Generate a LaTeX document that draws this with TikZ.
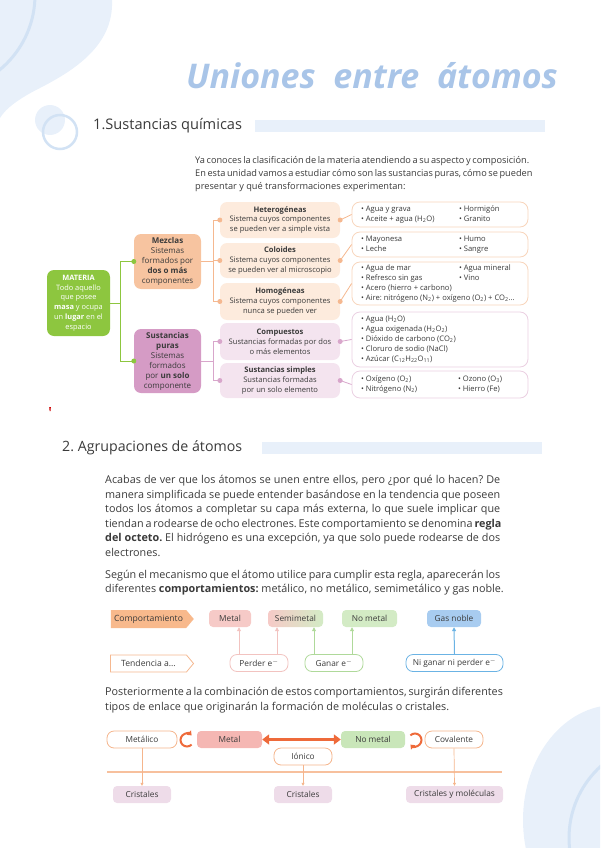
\documentclass[tikz,border=0pt]{standalone}
\usepackage{fontspec}
\setmainfont{Open Sans}
\usetikzlibrary{arrows.meta,shapes.symbols}
\frenchspacing

% colours
\definecolor{deco}{HTML}{E8F0FA}
\definecolor{decoring}{HTML}{D2E2F4}
\definecolor{titleblue}{HTML}{A9C5E8}
\definecolor{txt}{HTML}{3A3A3A}
\definecolor{matgreen}{HTML}{8DC63F}
\definecolor{mezorange}{HTML}{F7C4A0}
\definecolor{lineorange}{HTML}{F5B890}
\definecolor{peach}{HTML}{FDEBDD}
\definecolor{peachline}{HTML}{F8D5BC}
\definecolor{purapurple}{HTML}{D59BC5}
\definecolor{linepurple}{HTML}{D8A6CB}
\definecolor{lilac}{HTML}{F4E4EF}
\definecolor{lilacline}{HTML}{EBD0E2}
\definecolor{compor}{HTML}{F8B98C}
\definecolor{metpink}{HTML}{F6CAC7}
\definecolor{nmgreen}{HTML}{D3EBC5}
\definecolor{gasblue}{HTML}{A8CCF0}
\definecolor{perdline}{HTML}{F2C3C0}
\definecolor{ganline}{HTML}{AFD99A}
\definecolor{niline}{HTML}{6BB3E4}
\definecolor{enlace}{HTML}{F5B58C}
\definecolor{enred}{HTML}{EE6A3A}
\definecolor{metfill}{HTML}{F5B7B3}
\definecolor{nmfill}{HTML}{C9E6B9}
\definecolor{cristal}{HTML}{EEDCE9}

\newcommand{\jline}[2]{\makebox[#1][s]{#2}}

\begin{document}
\begin{tikzpicture}[
    x=1pt, y=-1pt,
    every node/.style={text=txt, inner sep=0pt},
    mapfont/.style={font=\fontsize{7.6}{9.8}\selectfont},
    bigbox/.style={rounded corners=7pt, align=center, minimum width=67pt, font=\fontsize{8}{10}\selectfont},
    subbox/.style={rounded corners=7pt, align=center, minimum width=120pt, mapfont},
    exbox/.style={draw, fill=white, rounded corners=8pt, line width=0.8pt, minimum width=176pt, font=\fontsize{7.6}{10}\selectfont},
    tag/.style={rounded corners=4pt, minimum height=17pt, font=\fontsize{8.3}{9}\selectfont},
    outbox/.style={fill=white, rounded corners=7pt, line width=0.8pt, minimum height=17pt, font=\fontsize{8.3}{9}\selectfont},
    para/.style={anchor=north west, align=left, font=\fontsize{10.8}{14.5}\selectfont}
]
\useasboundingbox (0,0) rectangle (600,848);

% Background shapes
\begin{scope}
\clip (0,0) rectangle (600,848);
\fill[deco] (0,0) -- (112,0) .. controls (114,45) and (75,70) .. (40,88)
    .. controls (20,98) and (6,108) .. (0,118) -- cycle;
\draw[decoring, line width=3pt] (-62,-5) circle (97pt);
\fill[deco] (615,820) ellipse [x radius=92pt, y radius=115pt];
\draw[decoring, line width=3pt] (666,838) circle (97pt);
\end{scope}

% Title
\node[text=titleblue, font=\fontsize{34}{40}\selectfont\bfseries\itshape] (title) at (372,76) {Uniones \ entre \ átomos};

% Section 1
\fill[deco] (50,120) circle (15pt);
\draw[decoring, line width=2.5pt] (60,132) circle (17pt);
\node[anchor=west, font=\fontsize{14.6}{17}\selectfont] (h1) at (93,126) {1.Sustancias químicas};
\fill[deco] (255,120) rectangle (545,132);

\node[anchor=north west, align=left, font=\fontsize{9.2}{13}\selectfont] (intro) at (195,156)
    {\jline{334pt}{Ya conoces la clasificación de la materia atendiendo a su aspecto y composición.}\\
     \jline{334pt}{En esta unidad vamos a estudiar cómo son las sustancias puras, cómo se pueden}\\
     presentar y qué transformaciones experimentan:};

% Concept map
\node[fill=matgreen, rounded corners=7pt, align=center, minimum width=63pt, minimum height=66pt,
      text=white, font=\fontsize{7.4}{9.8}\selectfont] (mat) at (78.5,303)
    {\textbf{MATERIA}\\Todo aquello\\que posee\\\textbf{masa} y ocupa\\un \textbf{lugar} en el\\espacio};

\node[bigbox, fill=mezorange, minimum height=55pt] (mez) at (167.5,261.5)
    {\textbf{Mezclas}\\Sistemas\\formados por\\\textbf{dos o más}\\componentes};
\node[bigbox, fill=purapurple, minimum height=64pt] (pur) at (167.5,361)
    {\textbf{Sustancias}\\\textbf{puras}\\Sistemas\\formados\\por \textbf{un solo}\\componente};

\node[subbox, fill=peach, minimum height=36pt] (het) at (280,220)
    {\textbf{Heterogéneas}\\Sistema cuyos componentes\\se pueden ver a simple vista};
\node[subbox, fill=peach, minimum height=35pt] (col) at (280,260.5)
    {\textbf{Coloides}\\Sistema cuyos componentes\\se pueden ver al microscopio};
\node[subbox, fill=peach, minimum height=37pt] (hom) at (280,301.5)
    {\textbf{Homogéneas}\\Sistema cuyos componentes\\nunca se pueden ver};
\node[subbox, fill=lilac, minimum height=37pt] (cpt) at (280,341.5)
    {\textbf{Compuestos}\\Sustancias formadas por dos\\o más elementos};
\node[subbox, fill=lilac, minimum height=35pt] (smp) at (280,380.5)
    {\textbf{Sustancias simples}\\Sustancias formadas\\por un solo elemento};

% Examples
\node[exbox, draw=peachline, minimum height=25pt] (ex1) at (440,214.5)
    {\begin{tabular}{@{}p{98pt}@{}p{60pt}@{}}
     • Agua y grava & • Hormigón\\
     • Aceite + agua (H\textsubscript{2}O) & • Granito
     \end{tabular}};
\node[exbox, draw=peachline, minimum height=25pt] (ex2) at (440,244.5)
    {\begin{tabular}{@{}p{98pt}@{}p{60pt}@{}}
     • Mayonesa & • Humo\\
     • Leche & • Sangre
     \end{tabular}};
\node[exbox, draw=peachline, minimum height=43pt] (ex3) at (440,283.5)
    {\begin{tabular}{@{}p{98pt}@{}p{60pt}@{}}
     • Agua de mar & • Agua mineral\\
     • Refresco sin gas & • Vino\\
     \multicolumn{2}{@{}l@{}}{• Acero (hierro + carbono)}\\
     \multicolumn{2}{@{}l@{}}{\makebox[158pt][l]{• Aire: nitrógeno (N\textsubscript{2}) + oxígeno (O\textsubscript{2}) + CO\textsubscript{2}...}}
     \end{tabular}};
\node[exbox, draw=lilacline, minimum height=55pt] (ex4) at (440,339.5)
    {\begin{tabular}{@{}p{158pt}@{}}
     • Agua (H\textsubscript{2}O)\\
     • Agua oxigenada (H\textsubscript{2}O\textsubscript{2})\\
     • Dióxido de carbono (CO\textsubscript{2})\\
     • Cloruro de sodio (NaCl)\\
     • Azúcar (C\textsubscript{12}H\textsubscript{22}O\textsubscript{11})
     \end{tabular}};
\node[exbox, draw=lilacline, minimum height=27pt] (ex5) at (440,384.5)
    {\begin{tabular}{@{}p{97pt}@{}p{61pt}@{}}
     • Oxígeno (O\textsubscript{2}) & • Ozono (O\textsubscript{3})\\
     • Nitrógeno (N\textsubscript{2}) & • Hierro (Fe)
     \end{tabular}};

% Connectors
\draw[matgreen, line width=1pt] (mat.east) -- ++(10.5,0) |- (mez.west);
\draw[matgreen, line width=1pt] (mat.east) -- ++(10.5,0) |- (pur.west);
\fill[matgreen] (mez.west) circle (2.5pt) (pur.west) circle (2.5pt);

\foreach \n/\e in {het/ex1, col/ex2, hom/ex3} {
    \draw[lineorange, line width=0.8pt] (mez.east) -- ++(12,0) |- (\n.west);
    \draw[lineorange, line width=0.8pt] (\n.east) -- (\e.west);
    \fill[lineorange] (\n.west) circle (2.5pt) (\n.east) circle (2.5pt);
}
\foreach \n/\e in {cpt/ex4, smp/ex5} {
    \draw[linepurple, line width=0.8pt] (pur.east) -- ++(12,0) |- (\n.west);
    \draw[linepurple, line width=0.8pt] (\n.east) -- (\e.west);
    \fill[linepurple] (\n.west) circle (2.5pt) (\n.east) circle (2.5pt);
}

% small red mark
\fill[red!80!black] (49.2,407) -- (50.8,407) -- (50.6,411) -- (49.6,411) -- cycle;

% Section 2
\node[anchor=west, font=\fontsize{14.2}{17}\selectfont] (h2) at (62,448) {2. Agrupaciones de átomos};
\fill[deco] (262,442) rectangle (542,454);

\node[para] (p1) at (105,475.5)
    {\jline{395pt}{Acabas de ver que los átomos se unen entre ellos, pero ¿por qué lo hacen? De}\\
     \jline{395pt}{manera simplificada se puede entender basándose en la tendencia que poseen}\\
     \jline{395pt}{todos los átomos a completar su capa más externa, lo que suele implicar que}\\
     \jline{395pt}{tiendan a rodearse de ocho electrones. Este comportamiento se denomina \textbf{regla}}\\
     \jline{395pt}{\textbf{del octeto.} El hidrógeno es una excepción, ya que solo puede rodearse de dos}\\
     electrones.};
\node[para] (p2) at (105,570)
    {\jline{395pt}{Según el mecanismo que el átomo utilice para cumplir esta regla, aparecerán los}\\
     diferentes \textbf{comportamientos:} metálico, no metálico, semimetálico y gas noble.};

% Behaviours
\node[signal, signal to=east, signal pointer angle=100, fill=compor, minimum width=83pt,
      minimum height=18pt, font=\fontsize{8.6}{9}\selectfont] (comp) at (148.5,619) {Comportamiento};
\node[signal, signal to=east, signal pointer angle=100, draw=lineorange, fill=white, line width=0.8pt,
      minimum width=83pt, minimum height=17pt, font=\fontsize{8.6}{9}\selectfont] (tend) at (148.5,663.5) {Tendencia a...};

\node[tag, fill=metpink, minimum width=42pt] (met) at (230,618.5) {Metal};
\node[tag, left color=metpink, right color=nmgreen, minimum width=55pt] (semi) at (295.5,618.5) {Semimetal};
\node[tag, fill=nmgreen, minimum width=55pt] (nom) at (369.5,618.5) {No metal};
\node[tag, fill=gasblue, minimum width=54pt] (gas) at (454,618.5) {Gas noble};

\node[outbox, draw=perdline, minimum width=58pt] (perd) at (259,663) {Perder e$^-$};
\node[outbox, draw=ganline, minimum width=58pt] (gan) at (334,663) {Ganar e$^-$};
\node[outbox, draw=niline, minimum width=97pt] (nig) at (454.5,663) {Ni ganar ni perder e$^-$};

\coordinate (pa) at ([xshift=-20pt]perd.north);
\coordinate (pb) at ([xshift=18pt]perd.north);
\coordinate (ga) at ([xshift=-20pt]gan.north);
\coordinate (gb) at ([xshift=18pt]gan.north);
\draw[perdline, line width=0.8pt, -{Triangle[length=4pt,width=4pt]}] (pa) -- (pa |- met.south);
\draw[perdline, line width=0.8pt, -{Triangle[length=4pt,width=4pt]}] (pb) -- (pb |- semi.south);
\draw[ganline, line width=0.8pt, -{Triangle[length=4pt,width=4pt]}] (ga) -- (ga |- semi.south);
\draw[ganline, line width=0.8pt, -{Triangle[length=4pt,width=4pt]}] (gb) -- (gb |- nom.south);
\draw[niline, line width=1pt, -{Triangle[length=4pt,width=4pt]}] (nig.north) -- (gas.south);

\node[para] (p3) at (105,687.5)
    {\jline{395pt}{Posteriormente a la combinación de estos comportamientos, surgirán diferentes}\\
     tipos de enlace que originarán la formación de moléculas o cristales.};

% Bonds
\node[outbox, draw=enlace, minimum width=70pt] (metc) at (142,739.5) {Metálico};
\node[tag, fill=metfill, minimum width=65pt] (met2) at (229.5,739.5) {Metal};
\node[tag, fill=nmfill, minimum width=64pt] (nom2) at (373,739.5) {No metal};
\node[outbox, draw=enlace, minimum width=58pt] (cov) at (454,739.5) {Covalente};
\node[outbox, draw=enlace, minimum width=58pt] (ion) at (303,756.5) {Iónico};

\draw[enred, line width=2.5pt, {Triangle[length=7pt,width=10pt]}-{Triangle[length=7pt,width=10pt]}] (met2.east) -- (nom2.west);
\draw[enred, line width=2pt, -{Triangle[length=4pt,width=6pt]}] (187,740) ++(45:6.5) arc[start angle=45, end angle=315, radius=6.5];
\draw[enred, line width=2pt, -{Triangle[length=4pt,width=6pt]}] (415,740) ++(-135:6.5) arc[start angle=-135, end angle=135, radius=6.5];

\draw[enlace!85, line width=2.5pt] (107,772) -- (502,772);

\node[tag, fill=cristal, minimum width=58pt] (cr1) at (142,794.5) {Cristales};
\node[tag, fill=cristal, minimum width=58pt] (cr2) at (303,794.5) {Cristales};
\node[tag, fill=cristal, minimum width=97pt] (cr3) at (454.5,794.5) {Cristales y moléculas};

\draw[enlace, line width=0.7pt, -{Triangle[length=3pt,width=3pt]}] (metc.south) -- (cr1.north);
\draw[enlace, line width=0.7pt, -{Triangle[length=3pt,width=3pt]}] (ion.south) -- (cr2.north);
\draw[enlace, line width=0.7pt, -{Triangle[length=3pt,width=3pt]}] (cov.south) -- (cr3.north);

\end{tikzpicture}
\end{document}
